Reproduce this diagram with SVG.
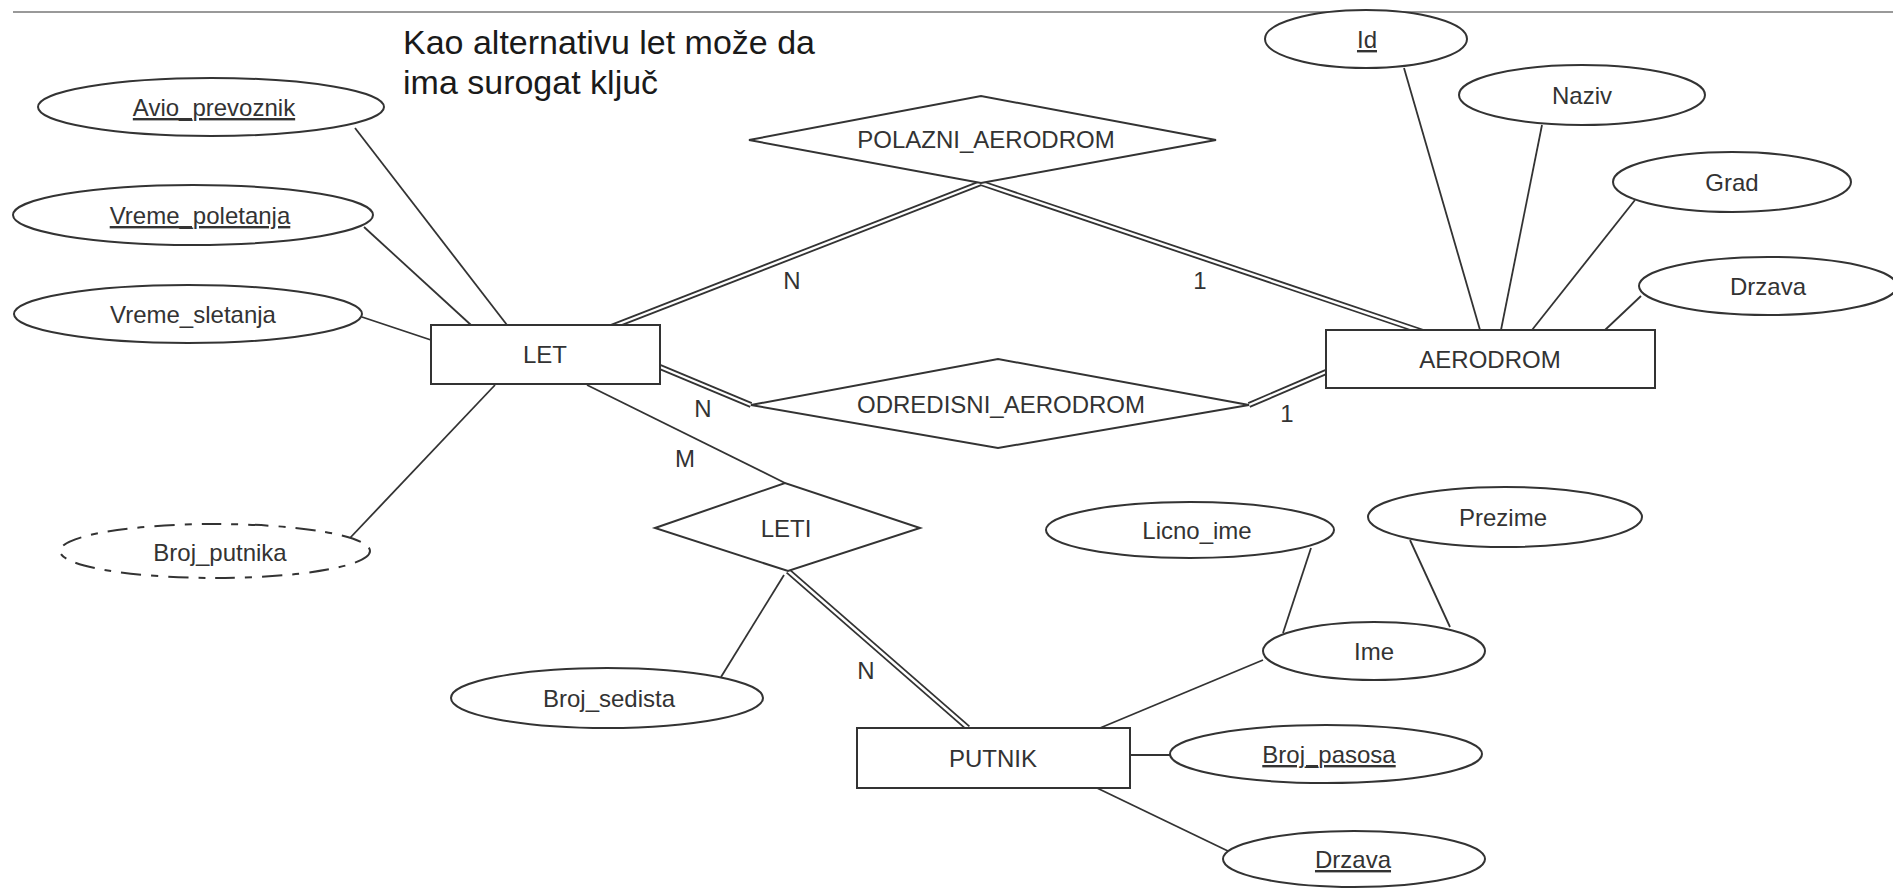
<svg xmlns="http://www.w3.org/2000/svg" width="1893" height="888" viewBox="0 0 1893 888">
<style>
.bg{fill:#fff}
.attr,.ent,.rel{fill:#fff;stroke:#333;stroke-width:2}
.dash{fill:#fff;stroke:#333;stroke-width:2;stroke-dasharray:20 10 7 10}
.ln{stroke:#333;stroke-width:1.8;fill:none}
.dblo{stroke:#333;stroke-width:6;fill:none}
.dbli{stroke:#fff;stroke-width:2.4;fill:none}
.lbl{font-family:"Liberation Sans",Arial,sans-serif;font-size:24px;fill:#333;text-anchor:middle}
.key{text-decoration:underline}
.note{font-family:"Liberation Sans",Arial,sans-serif;font-size:34px;fill:#1a1a1a}
</style>
<rect class="bg" x="0" y="0" width="1893" height="888"/>
<line x1="13" y1="12" x2="1893" y2="12" stroke="#999" stroke-width="2"/>
<g id="note"><text class="note" x="403" y="54">Kao alternativu let može da</text><text class="note" x="403" y="94">ima surogat ključ</text></g>
<g id="connectors">
<path class="ln" d="M355,128L507,325"/>
<path class="ln" d="M364,227L471,325"/>
<path class="ln" d="M362,317L431,340"/>
<path class="ln" d="M495,385L350,538"/>
<path class="ln" d="M587,385L785,483"/>
<path class="ln" d="M784,575L721,677"/>
<path class="ln" d="M1404,68L1480,330"/>
<path class="ln" d="M1542,125L1501,330"/>
<path class="ln" d="M1635,200L1532,330"/>
<path class="ln" d="M1641,296L1605,330"/>
<path class="ln" d="M1311,548L1283,633"/>
<path class="ln" d="M1410,540L1450,627"/>
<path class="ln" d="M1263,660L1100,728"/>
<path class="ln" d="M1130,755L1170,755"/>
<path class="ln" d="M1097,788L1230,852"/>
<g><path class="dblo" d="M981,183L606,329"/><path class="dbli" d="M981,183L606,329"/></g>
<g><path class="dblo" d="M981,183L1423,332"/><path class="dbli" d="M981,183L1423,332"/></g>
<g><path class="dblo" d="M660,367L751,405"/><path class="dbli" d="M660,367L751,405"/></g>
<g><path class="dblo" d="M1249,405L1326,372"/><path class="dbli" d="M1249,405L1326,372"/></g>
<g><path class="dblo" d="M788,571L968,728"/><path class="dbli" d="M788,571L968,728"/></g>
<text class="lbl" x="792" y="289">N</text>
<text class="lbl" x="1200" y="289">1</text>
<text class="lbl" x="703" y="417">N</text>
<text class="lbl" x="1287" y="422">1</text>
<text class="lbl" x="685" y="467">M</text>
<text class="lbl" x="866" y="679">N</text>
</g>
<g id="avio"><ellipse class="attr" cx="211" cy="107" rx="173" ry="29"/><text class="lbl key" x="214" y="116">Avio_prevoznik</text></g>
<g id="vreme_poletanja"><ellipse class="attr" cx="193" cy="215" rx="180" ry="30"/><text class="lbl key" x="200" y="224">Vreme_poletanja</text></g>
<g id="vreme_sletanja"><ellipse class="attr" cx="188" cy="314" rx="174" ry="29"/><text class="lbl" x="193" y="323">Vreme_sletanja</text></g>
<g id="broj_putnika"><ellipse class="dash" cx="215" cy="551" rx="155" ry="27"/><text class="lbl" x="220" y="561">Broj_putnika</text></g>
<g id="let"><rect class="ent" x="431" y="325" width="229" height="59"/><text class="lbl" x="545" y="363">LET</text></g>
<g id="polazni"><polygon class="rel" points="749,140 981,96 1216,140 981,183"/><text class="lbl" x="986" y="148">POLAZNI_AERODROM</text></g>
<g id="odredisni"><polygon class="rel" points="751,405 998,359 1249,405 998,448"/><text class="lbl" x="1001" y="413">ODREDISNI_AERODROM</text></g>
<g id="aerodrom"><rect class="ent" x="1326" y="330" width="329" height="58"/><text class="lbl" x="1490" y="368">AERODROM</text></g>
<g id="id"><ellipse class="attr" cx="1366" cy="39" rx="101" ry="29"/><text class="lbl key" x="1367" y="48">Id</text></g>
<g id="naziv"><ellipse class="attr" cx="1582" cy="95" rx="123" ry="30"/><text class="lbl" x="1582" y="104">Naziv</text></g>
<g id="grad"><ellipse class="attr" cx="1732" cy="182" rx="119" ry="30"/><text class="lbl" x="1732" y="191">Grad</text></g>
<g id="drzava_a"><ellipse class="attr" cx="1768" cy="286" rx="129" ry="29"/><text class="lbl" x="1768" y="295">Drzava</text></g>
<g id="leti"><polygon class="rel" points="655,528 785,483 920,528 788,571"/><text class="lbl" x="786" y="537">LETI</text></g>
<g id="broj_sedista"><ellipse class="attr" cx="607" cy="698" rx="156" ry="30"/><text class="lbl" x="609" y="707">Broj_sedista</text></g>
<g id="putnik"><rect class="ent" x="857" y="728" width="273" height="60"/><text class="lbl" x="993" y="767">PUTNIK</text></g>
<g id="licno_ime"><ellipse class="attr" cx="1190" cy="530" rx="144" ry="28"/><text class="lbl" x="1197" y="539">Licno_ime</text></g>
<g id="prezime"><ellipse class="attr" cx="1505" cy="517" rx="137" ry="30"/><text class="lbl" x="1503" y="526">Prezime</text></g>
<g id="ime"><ellipse class="attr" cx="1374" cy="651" rx="111" ry="29"/><text class="lbl" x="1374" y="660">Ime</text></g>
<g id="broj_pasosa"><ellipse class="attr" cx="1326" cy="754" rx="156" ry="29"/><text class="lbl key" x="1329" y="763">Broj_pasosa</text></g>
<g id="drzava_p"><ellipse class="attr" cx="1354" cy="859" rx="131" ry="28"/><text class="lbl key" x="1353" y="868">Drzava</text></g>
</svg>
